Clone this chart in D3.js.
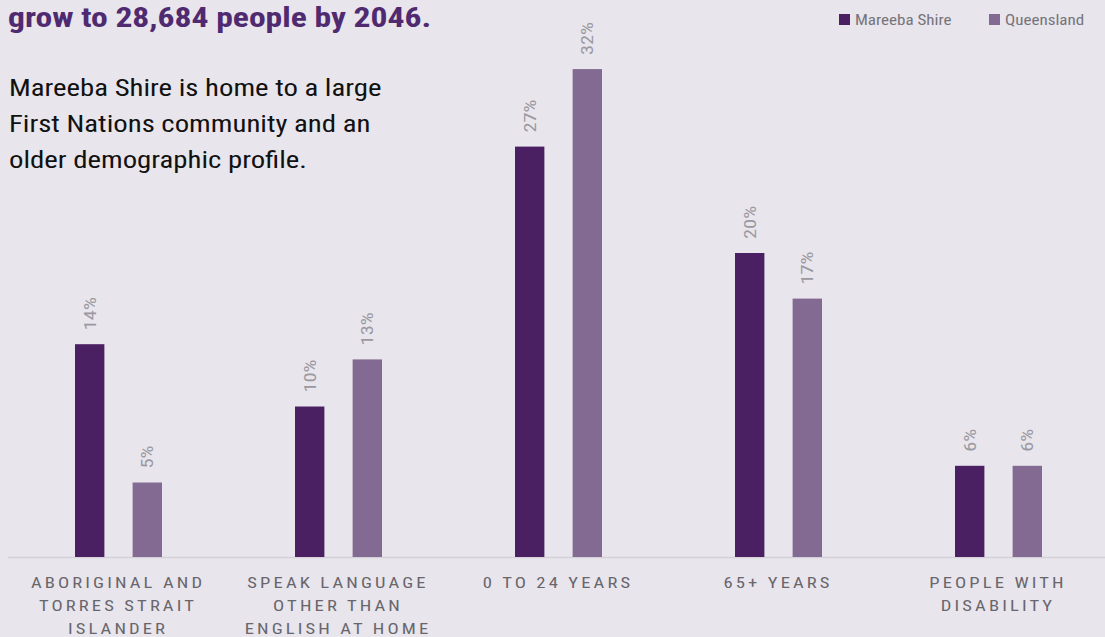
<!DOCTYPE html>
<html><head><meta charset="utf-8">
<script src="https://cdn.jsdelivr.net/npm/d3@7"></script>
<style>
html,body{margin:0;padding:0;background:#e8e5ec;}
svg{display:block;}
</style></head>
<body><svg id="c" width="1105" height="637"></svg>
<script>
const categories = [["ABORIGINAL AND","TORRES STRAIT","ISLANDER"],["SPEAK LANGUAGE","OTHER THAN","ENGLISH AT HOME"],["0 TO 24 YEARS"],["65+ YEARS"],["PEOPLE WITH","DISABILITY"]];
const seriesNames = ["Mareeba Shire","Queensland"];
const mareeba = [14.0, 9.9, 27.0, 20.0, 6.0];
const queensland = [4.9, 13.0, 32.1, 17.0, 6.0];
const valueLabels = [["14%","5%"],["10%","13%"],["27%","32%"],["20%","17%"],["6%","6%"]];
const colors = ["#4b2063","#836a93"];
const titleText = "grow to 28,684 people by 2046.";
const bodyLines = ["Mareeba Shire is home to a large","First Nations community and an","older demographic profile."];

const font = "'Liberation Sans Narrow','Arial Narrow','Roboto Condensed',Roboto,sans-serif";
const SX = 1.2; // horizontal stretch of the condensed face
const svg = d3.select("#c");
const W = 1105;
const baseY = 557;

const x0 = d3.scaleBand().domain(d3.range(categories.length)).range([8, 1108]).padding(0);
const x1 = d3.scaleBand().domain([0,1]).range([-43, 44]).paddingInner(0.49).paddingOuter(0);
const y = d3.scaleLinear().domain([0, 35]).range([baseY, baseY - 35*15.2]);

// axis baseline
svg.append("line").attr("x1",8).attr("x2",W).attr("y1",baseY+0.5).attr("y2",baseY+0.5)
  .attr("stroke","#d5d1d9").attr("stroke-width",1.5);

const data = categories.map((c,i)=>({i, vals:[mareeba[i], queensland[i]]}));
const g = svg.selectAll("g.grp").data(data).join("g").attr("class","grp")
  .attr("transform", d=>`translate(${x0(d.i)+x0.bandwidth()/2},0)`);

g.selectAll("rect").data(d=>d.vals.map((v,k)=>({v,k}))).join("rect")
  .attr("x", d=>x1(d.k)).attr("width", x1.bandwidth())
  .attr("y", d=>y(d.v)).attr("height", d=>baseY - y(d.v))
  .attr("fill", d=>colors[d.k]);

g.each(function(d){
  const gg = d3.select(this);
  d.vals.forEach((v,k)=>{
    const cx = x1(k) + x1.bandwidth()/2;
    gg.append("text")
      .attr("transform", `translate(${cx+6},${y(v)-14}) rotate(-90) scale(${SX},1)`)
      .attr("font-family", font).attr("font-size", 17).attr("fill","#9a98a0")
      .text(valueLabels[d.i][k]);
  });
  categories[d.i].forEach((line,li)=>{
    gg.append("text").attr("transform",`translate(0,${588 + li*23}) scale(${SX},1)`)
      .attr("text-anchor","middle").attr("font-family", font).attr("font-size",15.5)
      .attr("letter-spacing","2.6px").attr("fill","#68656c").text(line);
  });
});

// title (clipped continuation)
svg.append("text").attr("transform",`translate(8,27) scale(${SX},1)`).attr("font-family",font).attr("font-weight","bold")
  .attr("font-size",28).attr("fill","#4f2a70").text(titleText);

svg.append("g").selectAll("text").data(bodyLines).join("text")
  .attr("transform",(d,i)=>`translate(9,${96+i*36}) scale(${SX},1)`).attr("font-family",font).attr("font-size",24)
  .attr("fill","#111").text(d=>d);

// legend
const legX = [839, 989];
const leg = svg.append("g").selectAll("g").data(seriesNames).join("g")
  .attr("transform",(d,i)=>`translate(${legX[i]},14)`);
leg.append("rect").attr("width",11).attr("height",11).attr("fill",(d,i)=>colors[i]);
leg.append("text").attr("transform",`translate(16,10.5) scale(${SX},1)`).attr("font-family",font).attr("font-size",14.2)
  .attr("fill","#76737a").text(d=>d);
</script></body></html>
